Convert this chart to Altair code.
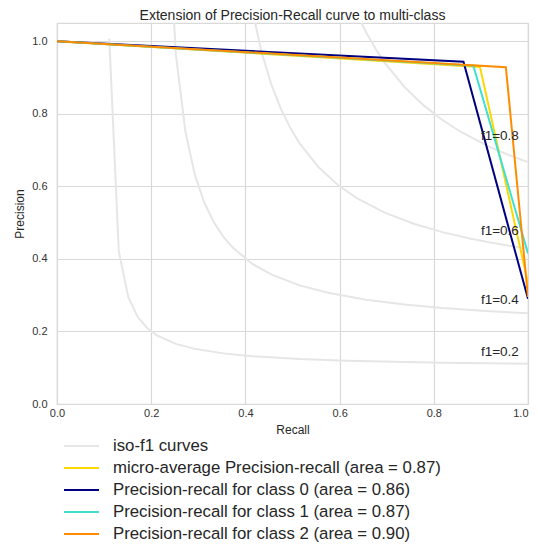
import altair as alt
import pandas as pd

# ---- iso-f1 reference curves ----
iso02_x = [0.1110, 0.1312, 0.1514, 0.1716, 0.1918, 0.2120, 0.2524, 0.2929, 0.3535, 0.4141, 0.5151, 0.6161, 0.7171, 0.8182, 0.9192, 1.0]
iso02_y = [1.0074, 0.4203, 0.2944, 0.2396, 0.2089, 0.1893, 0.1656, 0.1519, 0.1395, 0.1318, 0.1241, 0.1194, 0.1162, 0.1139, 0.1122, 0.1111]
iso04_x = [0.2322, 0.2524, 0.2727, 0.2929, 0.3131, 0.3333, 0.3535, 0.3737, 0.4141, 0.4545, 0.5151, 0.5757, 0.6565, 0.7373, 0.8182, 0.9192, 1.0]
iso04_y = [1.4405, 0.9627, 0.7506, 0.6308, 0.5538, 0.5002, 0.4606, 0.4303, 0.3868, 0.3572, 0.3269, 0.3065, 0.2876, 0.2744, 0.2647, 0.2556, 0.25]
iso06_x = [0.3939, 0.4141, 0.4343, 0.4545, 0.4747, 0.4949, 0.5151, 0.5555, 0.5959, 0.6363, 0.6969, 0.7576, 0.8182, 0.8788, 0.9192, 0.9596, 1.0]
iso06_y = [1.2587, 1.0889, 0.9702, 0.8826, 0.8152, 0.7618, 0.7184, 0.6522, 0.6041, 0.5676, 0.5267, 0.4967, 0.4737, 0.4555, 0.4454, 0.4364, 0.4286]
iso08_x = [0.6161, 0.6363, 0.6565, 0.6767, 0.6969, 0.7373, 0.7778, 0.8182, 0.8586, 0.9192, 0.9596, 1.0]
iso08_y = [1.1403, 1.0770, 1.0237, 0.9782, 0.9388, 0.8743, 0.8236, 0.7826, 0.7489, 0.7082, 0.6859, 0.6667]

ann_x = [0.9, 0.9, 0.9, 0.9]
ann_y = [0.1322, 0.2756, 0.4654, 0.7282]
ann_text = ["f1=0.2", "f1=0.4", "f1=0.6", "f1=0.8"]

# ---- precision-recall curves ----
micro_recall = [0.0, 0.898, 1.0]
micro_precision = [1.0, 0.929, 0.333]
c0_recall = [0.0, 0.863, 1.0]
c0_precision = [1.0, 0.943, 0.29]
c1_recall = [0.0, 0.884, 1.0]
c1_precision = [1.0, 0.932, 0.415]
c2_recall = [0.0, 0.953, 1.0]
c2_precision = [1.0, 0.928, 0.295]

series_names = [
    "iso-f1 curves",
    "micro-average Precision-recall (area = 0.87)",
    "Precision-recall for class 0 (area = 0.86)",
    "Precision-recall for class 1 (area = 0.87)",
    "Precision-recall for class 2 (area = 0.90)",
]
series_colors = ["#e6e6e6", "#ffd700", "#000080", "#40e0d0", "#ff8c00"]
tick_values = [0.0, 0.2, 0.4, 0.6, 0.8, 1.0]

iso_rows = []
for cid, xs, ys in [("f02", iso02_x, iso02_y), ("f04", iso04_x, iso04_y),
                    ("f06", iso06_x, iso06_y), ("f08", iso08_x, iso08_y)]:
    for xv, yv in zip(xs, ys):
        iso_rows.append({"recall": xv, "precision": yv, "series": series_names[0], "curve": cid})
iso_df = pd.DataFrame(iso_rows)

pr_rows = []
for name, xs, ys in [(series_names[1], micro_recall, micro_precision),
                     (series_names[2], c0_recall, c0_precision),
                     (series_names[3], c1_recall, c1_precision),
                     (series_names[4], c2_recall, c2_precision)]:
    for xv, yv in zip(xs, ys):
        pr_rows.append({"recall": xv, "precision": yv, "series": name, "curve": name})
pr_df = pd.DataFrame(pr_rows)

ann_df = pd.DataFrame({"recall": ann_x, "precision": ann_y, "label": ann_text})

FONT = "Liberation Sans"

x_enc = alt.X("recall:Q", scale=alt.Scale(domain=[0, 1], nice=False, zero=False),
              axis=alt.Axis(values=tick_values, format=".1f", title="Recall",
                            labelFlush=False, labelPadding=3, titlePadding=6,
                            labelAlign={"condition": {"test": "datum.value >= 1", "value": "right"},
                                        "value": "center"}))
y_enc = alt.Y("precision:Q", scale=alt.Scale(domain=[0, 1.05], nice=False, zero=False),
              axis=alt.Axis(values=tick_values, format=".1f", title="Precision",
                            labelFlush=False, labelPadding=10, titlePadding=5))
color_enc = alt.Color(
    "series:N",
    scale=alt.Scale(domain=series_names, range=series_colors),
    legend=alt.Legend(
        title=None, orient="none", legendX=6, legendY=414,
        symbolType="stroke", symbolSize=1225, symbolStrokeWidth=2,
        labelFont=FONT, labelFontSize=16.8, labelColor="#262626",
        labelOffset=13, labelLimit=600, clipHeight=18, rowPadding=4,
        padding=0, direction="vertical",
    ),
)

iso = alt.Chart(iso_df).mark_line(clip=True, strokeWidth=2).encode(
    x=x_enc, y=y_enc, color=color_enc, detail="curve:N"
)
pr = alt.Chart(pr_df).mark_line(clip=True, strokeWidth=2).encode(
    x=x_enc, y=y_enc, color=color_enc, detail="curve:N"
)
ann = alt.Chart(ann_df).mark_text(
    align="left", baseline="alphabetic", font=FONT, fontSize=13.5, color="#262626"
).encode(x=x_enc, y=y_enc, text="label:N")

chart = alt.layer(iso, pr, ann).properties(
    width=471, height=381,
    title=alt.TitleParams("Extension of Precision-Recall curve to multi-class",
                          font=FONT, fontSize=14, fontWeight="normal",
                          color="#262626", anchor="middle", offset=0),
    autosize=alt.AutoSizeParams(type="none"),
    padding={"left": 49, "top": 15, "right": 2, "bottom": 141},
).configure_view(
    stroke="#d9d9d9", strokeWidth=1.2
).configure_axis(
    grid=True, gridColor="#d9d9d9", gridWidth=1.2, domain=False, ticks=False,
    labelFont=FONT, labelFontSize=11, labelColor="#333333",
    titleFont=FONT, titleFontSize=12, titleFontWeight="normal", titleColor="#262626",
)

chart.save("out.html", embed_options={"renderer": "svg", "actions": False})
